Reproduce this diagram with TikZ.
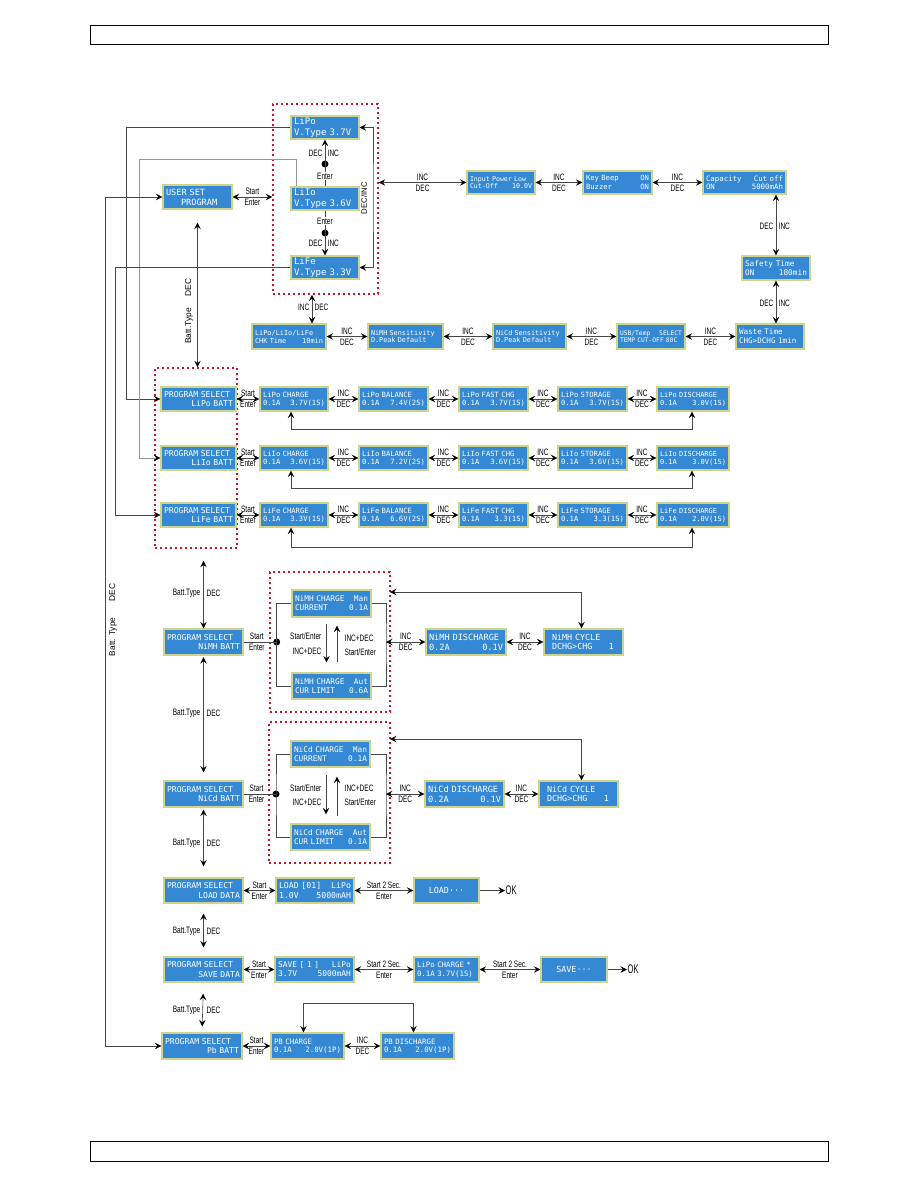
\documentclass[tikz,border=0pt]{standalone}
\usepackage{fontspec}
\setmainfont{Liberation Sans}
\newfontfamily\lcdfont{DejaVu Sans Mono}
\newfontfamily\lblfont[FakeStretch=0.7]{Liberation Sans}
\newfontfamily\okfont[FakeStretch=0.6]{Liberation Sans}
\usetikzlibrary{arrows.meta}
\definecolor{lcdblue}{RGB}{52,136,212}
\definecolor{lcdedge}{RGB}{206,212,140}
\definecolor{dotred}{RGB}{200,20,40}
\definecolor{lnc}{RGB}{70,70,70}
\definecolor{lnl}{RGB}{150,150,150}
\newcommand\lcdfil{\hspace*{\fill}}
\newcommand\lcdbox[8][7.2]{%
 \pgfmathsetmacro\lcdW{#5-#3}%
 \pgfmathsetmacro\lcdH{#6-#4}%
 \pgfmathsetmacro\lcdT{#5-#3-6}%
 \pgfmathsetmacro\lcdX{(#3+#5)/2}%
 \pgfmathsetmacro\lcdY{(#4+#6)/2}%
 \pgfmathsetmacro\lcdB{#1*1.15}%
 \node[lcd, font={\lcdfont\fontsize{#1}{\lcdB}\selectfont}, minimum width=\lcdW pt, minimum height=\lcdH pt, text width=\lcdT pt] (#2) at (\lcdX,\lcdY) {#7\if\relax\detokenize{#8}\relax\else\\#8\fi};%
}
\newcommand\redrect[5]{%
 \pgfmathsetmacro\rbW{#4-#2}%
 \pgfmathsetmacro\rbH{#5-#3}%
 \pgfmathsetmacro\rbX{(#2+#4)/2}%
 \pgfmathsetmacro\rbY{(#3+#5)/2}%
 \node[redbox, minimum width=\rbW pt, minimum height=\rbH pt, inner sep=0pt] (#1) at (\rbX,\rbY) {};%
}
\newcommand\hid[2]{\draw[darr] (#1.east) -- (#2.west) node[lbl, midway, above=1.5pt] (#1i) {INC} node[lbl, midway, below=1.5pt] (#1d) {DEC};}
\newcommand\hse[2]{\draw[darr] (#1.east) -- (#2.west) node[lbl, midway, above=1.5pt] (#1s) {Start} node[lbl, midway, below=1.5pt] (#1e) {Enter};}
\tikzset{
 lcd/.style={draw=lcdedge, fill=lcdblue, line width=1.3pt, text=white, inner xsep=3pt, inner ysep=1pt, align=left},
 redbox/.style={draw=dotred, line width=1.6pt, dash pattern=on 1.6pt off 3.4pt},
 ln/.style={draw=lnc, line width=0.6pt},
 arr/.style={ln, -{Stealth[length=6.5pt,width=6.5pt,inset=2.5pt,color=black]}},
 darr/.style={ln, {Stealth[length=6.5pt,width=6.5pt,inset=2.5pt,color=black]}-{Stealth[length=6.5pt,width=6.5pt,inset=2.5pt,color=black]}},
 lbl/.style={font=\lblfont\fontsize{9.3}{10}\selectfont, inner sep=0.5pt, text=black},
 rlbl/.style={font=\fontsize{8.4}{9}\selectfont, rotate=90, inner sep=0pt},
 dotn/.style={circle, fill=black, inner sep=0pt, minimum size=7pt},
 okl/.style={font=\okfont\fontsize{12.5}{13}\selectfont, inner sep=0.5pt},
}
\begin{document}
\begin{tikzpicture}[x=1pt,y=-1pt]
\useasboundingbox (0,0) rectangle (918,1188);
\fill[white] (0,0) rectangle (918,1188);
\draw[line width=0.9pt] (90,25) rectangle (828,44);
\draw[line width=0.9pt] (90,1141) rectangle (828,1161);

% red dotted groups
\redrect{rb1}{273}{104}{378}{294}
\redrect{rb2}{155}{368}{237}{548}
\redrect{rb3}{270}{572}{390}{712}
\redrect{rb4}{269}{722}{390}{863}

% ---------- top section ----------
\lcdbox[9]{lipoV}{291}{116}{359}{139}{LiPo}{V.Type 3.7V}
\lcdbox[9]{liioV}{291}{187}{359}{210}{LiIo}{V.Type 3.6V}
\lcdbox[9]{lifeV}{291}{256}{359}{279}{LiFe}{V.Type 3.3V}
\lcdbox[8.6]{userset}{163}{185}{232}{209}{USER SET}{\hspace*{15pt}PROGRAM}
\lcdbox[6.6]{inpower}{467}{171}{535}{194}{Input Power Low}{Cut-Off\lcdfil 10.0V}
\lcdbox[7.2]{keybeep}{583}{171}{652}{194}{Key Beep\lcdfil ON}{Buzzer\lcdfil ON}
\lcdbox[7.4]{capacity}{703}{171}{786}{194}{Capacity\lcdfil Cut off}{ON\lcdfil 5000mAh}
\lcdbox[7.8]{safety}{742}{256}{810}{280}{Safety Time}{ON\lcdfil 180min}
\lcdbox[7.6]{waste}{736}{324}{804}{349}{Waste Time}{CHG>DCHG 1min}
\lcdbox[6.3]{usb}{617}{324}{685}{349}{USB/Temp\lcdfil SELECT}{TEMP CUT-OFF 80C}
\lcdbox[6.8]{nicdsens}{493}{324}{566}{349}{NiCd Sensitivity}{D.Peak Default}
\lcdbox[6.8]{nimhsens}{368}{324}{443}{349}{NiMH Sensitivity}{D.Peak Default}
\lcdbox[6.9]{chk}{252}{324}{326}{349}{LiPo/LiIo/LiFe}{CHK Time\lcdfil 10min}

\node[dotn] (d1) at (325,164) {};
\node[dotn] (d2) at (325,233) {};
\draw[ln] (liioV.north) -- (d1.center);
\draw[arr] (d1.center) -- (lipoV.south);
\draw[ln] (liioV.south) -- (d2.center);
\draw[arr] (d2.center) -- (lifeV.north);
\node[lbl, fill=white] (en1) at (325,176) {Enter};
\node[lbl, fill=white] (en2) at (325,221) {Enter};
\node[lbl, anchor=east] (dc1) at (323,153) {DEC};
\node[lbl, anchor=west] (ic1) at (327,153) {INC};
\node[lbl, anchor=east] (dc2) at (323,243) {DEC};
\node[lbl, anchor=west] (ic2) at (327,243) {INC};

\draw[darr] (userset.east) -- (userset.east -| rb1.west) node[lbl, midway, above=1.5pt] (us1) {Start} node[lbl, midway, below=1.5pt] (ue1) {Enter};
\coordinate (rv) at (373,198);
\draw[darr] (lipoV.east) -| (rv) |- (lifeV.east);
\node[rlbl, font=\fontsize{7.8}{8}\selectfont] (decinc) at (364,198) {DEC/INC};
\draw[darr] (inpower.west -| rb1.east) -- (inpower.west) node[lbl, midway, above=1.5pt] (ti) {INC} node[lbl, midway, below=1.5pt] (td) {DEC};
\hid{inpower}{keybeep}
\hid{keybeep}{capacity}
\draw[darr] (safety.north |- capacity.south) -- (safety.north);
\node[lbl, anchor=east] (cs1) at (774,226) {DEC};
\node[lbl, anchor=west] (cs2) at (778,226) {INC};
\draw[darr] (safety.south) -- (safety.south |- waste.north);
\node[lbl, anchor=east] (sw1) at (774,303) {DEC};
\node[lbl, anchor=west] (sw2) at (778,303) {INC};
\hid{usb}{waste}
\hid{nicdsens}{usb}
\hid{nimhsens}{nicdsens}
\hid{chk}{nimhsens}
\coordinate (chkT) at ([xshift=23pt]chk.north);
\draw[darr] (chkT) -- (chkT |- rb1.south);
\node[lbl, anchor=east] (ck1) at (310,307) {INC};
\node[lbl, anchor=west] (ck2) at (314,307) {DEC};

\draw[darr, shorten <=13pt] (userset.south) -- (userset.south |- rb2.north);
\node[rlbl] (bt1) at (189,311) {Batt.Type\hspace{12pt}DEC};

% ---------- Li rows ----------
\lcdbox[8.1]{psLiPo}{161}{387}{236}{411}{PROGRAM SELECT}{\lcdfil LiPo BATT}
\lcdbox[8.1]{psLiIo}{161}{446}{236}{470}{PROGRAM SELECT}{\lcdfil LiIo BATT}
\lcdbox[8.1]{psLiFe}{161}{503}{236}{527}{PROGRAM SELECT}{\lcdfil LiFe BATT}

\lcdbox{lipoChg}{260}{387}{328}{411}{LiPo CHARGE}{0.1A\lcdfil 3.7V(1S)}
\lcdbox{lipoBal}{359}{387}{428}{411}{LiPo BALANCE}{0.1A\lcdfil 7.4V(2S)}
\lcdbox{lipoFast}{459}{387}{528}{411}{LiPo FAST CHG}{0.1A\lcdfil 3.7V(1S)}
\lcdbox{lipoSto}{558}{387}{627}{411}{LiPo STORAGE}{0.1A\lcdfil 3.7V(1S)}
\lcdbox[7]{lipoDis}{657}{387}{729}{411}{LiPo DISCHARGE}{0.1A\lcdfil 3.0V(1S)}

\lcdbox{liioChg}{260}{446}{328}{470}{LiIo CHARGE}{0.1A\lcdfil 3.6V(1S)}
\lcdbox{liioBal}{359}{446}{428}{470}{LiIo BALANCE}{0.1A\lcdfil 7.2V(2S)}
\lcdbox{liioFast}{459}{446}{528}{470}{LiIo FAST CHG}{0.1A\lcdfil 3.6V(1S)}
\lcdbox{liioSto}{558}{446}{627}{470}{LiIo STORAGE}{0.1A\lcdfil 3.6V(1S)}
\lcdbox[7]{liioDis}{657}{446}{729}{470}{LiIo DISCHARGE}{0.1A\lcdfil 3.0V(1S)}

\lcdbox{lifeChg}{260}{503}{328}{527}{LiFe CHARGE}{0.1A\lcdfil 3.3V(1S)}
\lcdbox{lifeBal}{359}{503}{428}{527}{LiFe BALANCE}{0.1A\lcdfil 6.6V(2S)}
\lcdbox{lifeFast}{459}{503}{528}{527}{LiFe FAST CHG}{0.1A\lcdfil 3.3(1S)}
\lcdbox{lifeSto}{558}{503}{627}{527}{LiFe STORAGE}{0.1A\lcdfil 3.3(1S)}
\lcdbox[7]{lifeDis}{657}{503}{729}{527}{LiFe DISCHARGE}{0.1A\lcdfil 2.0V(1S)}

\hse{psLiPo}{lipoChg}
\hid{lipoChg}{lipoBal}
\hid{lipoBal}{lipoFast}
\hid{lipoFast}{lipoSto}
\hid{lipoSto}{lipoDis}
\hse{psLiIo}{liioChg}
\hid{liioChg}{liioBal}
\hid{liioBal}{liioFast}
\hid{liioFast}{liioSto}
\hid{liioSto}{liioDis}
\hse{psLiFe}{lifeChg}
\hid{lifeChg}{lifeBal}
\hid{lifeBal}{lifeFast}
\hid{lifeFast}{lifeSto}
\hid{lifeSto}{lifeDis}

\draw[darr] ([xshift=-3pt]lipoChg.south) -- ++(0,18) -| ([xshift=-1pt]lipoDis.south);
\draw[darr] ([xshift=-3pt]liioChg.south) -- ++(0,18) -| ([xshift=-1pt]liioDis.south);
\draw[darr] ([xshift=-3pt]lifeChg.south) -- ++(0,20) -| ([xshift=-1pt]lifeDis.south);

\draw[arr] (lipoV.west) -| (126.7,399) -- (psLiPo.west);
\draw[arr, draw=lnl] ([xshift=6pt]liioV.north west) |- (139.3,159.3) |- (psLiIo.west);
\draw[arr] (lifeV.west) -| (115,515) -- (psLiFe.west);

% ---------- lower section ----------
\lcdbox[8.1]{psNiMH}{164}{629}{243}{655}{PROGRAM SELECT}{\lcdfil NiMH BATT}
\lcdbox[7.8]{nimhMan}{292}{590}{371}{617}{NiMH CHARGE\lcdfil Man}{CURRENT\lcdfil 0.1A}
\lcdbox[7.8]{nimhAut}{292}{673}{371}{699}{NiMH CHARGE\lcdfil Aut}{CUR LIMIT\lcdfil 0.6A}
\lcdbox[8.6]{nimhDis}{426}{629}{506}{655}{NiMH DISCHARGE}{0.2A\lcdfil 0.1V}
\lcdbox[8.4]{nimhCyc}{544}{629}{623}{655}{\hspace*{5pt}NiMH CYCLE}{\hspace*{5pt}DCHG>CHG\lcdfil 1\hspace*{6pt}}

\lcdbox[8.1]{psNiCd}{164}{781}{243}{807}{PROGRAM SELECT}{\lcdfil NiCd BATT}
\lcdbox[7.8]{nicdMan}{291}{741}{370}{767}{NiCd CHARGE\lcdfil Man}{CURRENT\lcdfil 0.1A}
\lcdbox[7.8]{nicdAut}{291}{824}{370}{850}{NiCd CHARGE\lcdfil Aut}{CUR LIMIT\lcdfil 0.1A}
\lcdbox[8.6]{nicdDis}{425}{781}{504}{807}{NiCd DISCHARGE}{0.2A\lcdfil 0.1V}
\lcdbox[8.4]{nicdCyc}{539}{781}{618}{807}{\hspace*{5pt}NiCd CYCLE}{\hspace*{5pt}DCHG>CHG\lcdfil 1\hspace*{6pt}}

\lcdbox[8.1]{psLoad}{164}{878}{243}{903}{PROGRAM SELECT}{\lcdfil LOAD DATA}
\lcdbox[8.2]{load01}{276}{878}{354}{903}{LOAD [01]\lcdfil LiPo}{1.0V\lcdfil 5000mAH}
\lcdbox[8.4]{loading}{414}{878}{479}{903}{\lcdfil LOAD···\lcdfil}{}

\lcdbox[8.1]{psSave}{164}{957}{243}{982}{PROGRAM SELECT}{\lcdfil SAVE DATA}
\lcdbox[7.9]{save1}{275}{957}{354}{982}{SAVE [ 1 ]\lcdfil LiPo}{3.7V\lcdfil 5000mAH}
\lcdbox[7.4]{lipoStar}{414}{957}{479}{982}{LiPo CHARGE *}{0.1A 3.7V(1S)}
\lcdbox[8.4]{saving}{541}{957}{607}{982}{\lcdfil SAVE···\lcdfil}{}

\lcdbox[8.1]{psPb}{162}{1033}{242}{1059}{PROGRAM SELECT}{\lcdfil Pb BATT}
\lcdbox[7.4]{pbChg}{271}{1033}{344}{1059}{PB CHARGE}{0.1A\lcdfil 2.0V(1P)}
\lcdbox[7.4]{pbDis}{381}{1033}{454}{1059}{PB DISCHARGE}{0.1A\lcdfil 2.0V(1P)}

% long left line
\draw[darr] (userset.west) -| (105,1046) -- (psPb.west);
\node[rlbl] (bt0) at (113,620) {Batt. Type\hspace{16pt}DEC};

% battery type arrows
\draw[darr, shorten <=12pt] (psNiMH.north |- rb2.south) -- (psNiMH.north);
\node[lbl, anchor=east] (bta) at (201,593) {Batt.Type};
\node[lbl, anchor=west] (bda) at (206,593) {DEC};
\draw[darr, shorten <=1.5pt, shorten >=8pt] (psNiMH.south) -- (psNiCd.north);
\node[lbl, anchor=east] (btb) at (201,713) {Batt.Type};
\node[lbl, anchor=west] (bdb) at (206,713) {DEC};
\draw[darr, shorten <=2pt, shorten >=11pt] (psNiCd.south) -- (psLoad.north);
\node[lbl, anchor=east] (btc) at (201,843) {Batt.Type};
\node[lbl, anchor=west] (bdc) at (206,843) {DEC};
\draw[darr, shorten <=10pt, shorten >=9pt] (psLoad.south) -- (psSave.north);
\node[lbl, anchor=east] (btd) at (201,931) {Batt.Type};
\node[lbl, anchor=west] (bdd) at (206,931) {DEC};
\draw[darr, shorten <=11pt, shorten >=6pt] (psSave.south) -- (psPb.north);
\node[lbl, anchor=east] (bte) at (201,1010) {Batt.Type};
\node[lbl, anchor=west] (bde) at (206,1010) {DEC};

% NiMH group
\node[dotn] (dNiMH) at (276.7,642) {};
\draw[ln] (psNiMH.east) -- (dNiMH.center) node[lbl, pos=0.4, above=1.5pt] (nms) {Start} node[lbl, pos=0.4, below=1.5pt] (nme) {Enter};
\draw[ln] (nimhMan.west) -| (dNiMH.center) |- (nimhAut.west);
\coordinate (rNiMH) at (386,642);
\draw[ln] (nimhMan.east) -| (rNiMH) |- (nimhAut.east);
\draw[arr, shorten <=6pt, shorten >=10pt] ([xshift=-5pt]nimhMan.south) -- ([xshift=-5pt]nimhAut.north);
\draw[arr, shorten <=10pt, shorten >=8pt] ([xshift=5.5pt]nimhAut.north) -- ([xshift=5.5pt]nimhMan.south);
\node[lbl, anchor=east] (nm1) at (322,636) {Start/Enter};
\node[lbl, anchor=east] (nm2) at (322,651) {INC+DEC};
\node[lbl, anchor=west] (nm3) at (344,638) {INC+DEC};
\node[lbl, anchor=west] (nm4) at (344,652) {Start/Enter};
\draw[darr] (rNiMH) -- (nimhDis.west) node[lbl, midway, above=1.5pt] (nmi) {INC} node[lbl, midway, below=1.5pt] (nmd) {DEC};
\hid{nimhDis}{nimhCyc}
\coordinate (tNiMH) at (390,592);
\draw[darr] ([xshift=-2pt]nimhCyc.north) |- (tNiMH);

% NiCd group
\node[dotn] (dNiCd) at (276,794) {};
\draw[ln] (psNiCd.east) -- (dNiCd.center) node[lbl, pos=0.4, above=1.5pt] (ncs) {Start} node[lbl, pos=0.4, below=1.5pt] (nce) {Enter};
\draw[ln] (nicdMan.west) -| (dNiCd.center) |- (nicdAut.west);
\coordinate (rNiCd) at (386,794);
\draw[ln] (nicdMan.east) -| (rNiCd) |- (nicdAut.east);
\draw[arr, shorten <=7pt, shorten >=9pt] ([xshift=-4.5pt]nicdMan.south) -- ([xshift=-4.5pt]nicdAut.north);
\draw[arr, shorten <=7pt, shorten >=9pt] ([xshift=6.5pt]nicdAut.north) -- ([xshift=6.5pt]nicdMan.south);
\node[lbl, anchor=east] (nc1) at (322,788) {Start/Enter};
\node[lbl, anchor=east] (nc2) at (322,802) {INC+DEC};
\node[lbl, anchor=west] (nc3) at (344,788) {INC+DEC};
\node[lbl, anchor=west] (nc4) at (344,802) {Start/Enter};
\draw[darr] (rNiCd) -- (nicdDis.west) node[lbl, midway, above=1.5pt] (nci) {INC} node[lbl, midway, below=1.5pt] (ncd) {DEC};
\hid{nicdDis}{nicdCyc}
\coordinate (tNiCd) at (390,739);
\draw[darr] ([xshift=3pt]nicdCyc.north) |- (tNiCd);

% load / save / Pb rows
\hse{psLoad}{load01}
\draw[darr] (load01.east) -- (loading.west) node[lbl, midway, above=1.5pt] (l2s) {Start 2 Sec.} node[lbl, midway, below=1.5pt] (l2e) {Enter};
\node[okl, anchor=west] (ok1) at (505,890.5) {OK};
\draw[arr] (loading.east) -- (ok1.west);

\hse{psSave}{save1}
\draw[darr] (save1.east) -- (lipoStar.west) node[lbl, midway, above=1.5pt] (s2s) {Start 2 Sec.} node[lbl, midway, below=1.5pt] (s2e) {Enter};
\draw[darr] (lipoStar.east) -- (saving.west) node[lbl, midway, above=1.5pt] (s3s) {Start 2 Sec.} node[lbl, midway, below=1.5pt] (s3e) {Enter};
\node[okl, anchor=west] (ok2) at (627,969.5) {OK};
\draw[arr] (saving.east) -- (ok2.west);

\hse{psPb}{pbChg}
\hid{pbChg}{pbDis}
\draw[darr] ([xshift=-4pt]pbChg.north) -- ++(0,-29) -| ([xshift=-4pt]pbDis.north);
\end{tikzpicture}
\end{document}
